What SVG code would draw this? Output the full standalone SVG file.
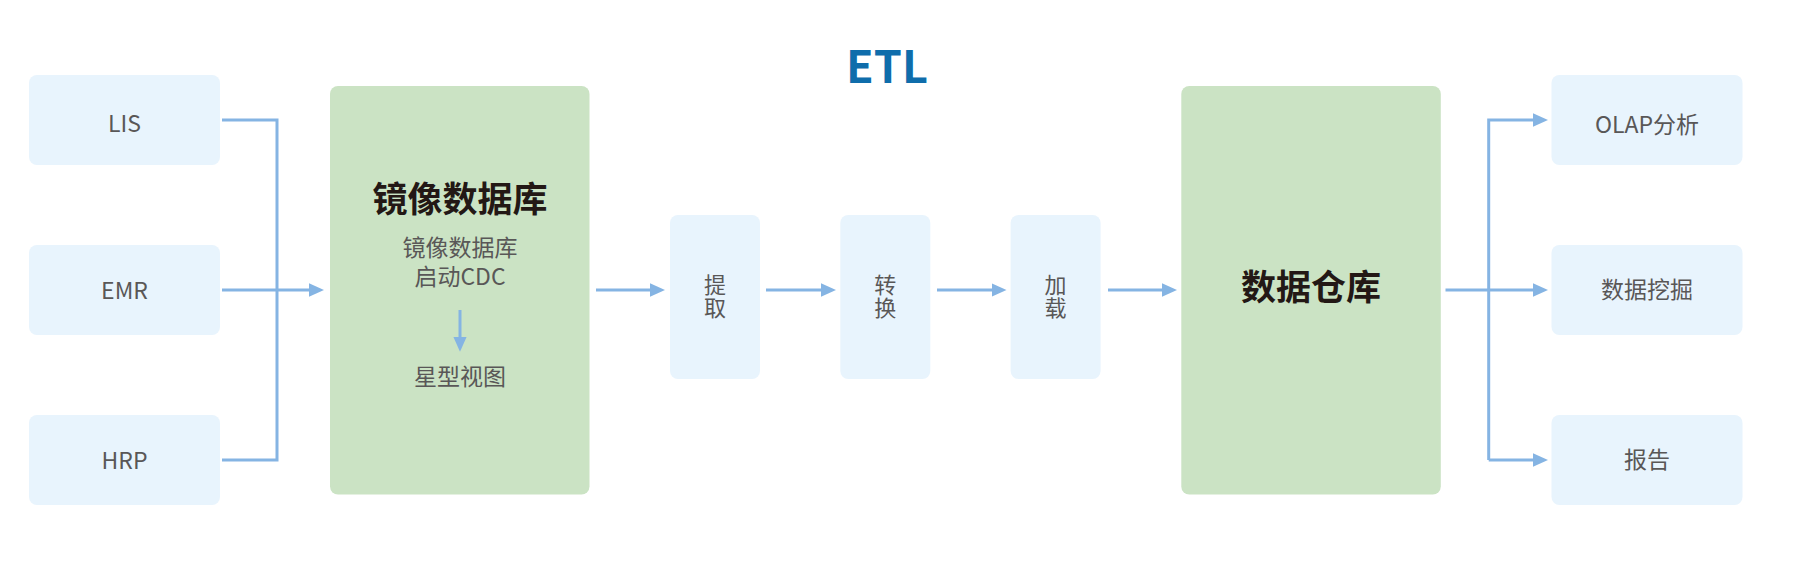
<svg xmlns="http://www.w3.org/2000/svg" width="1794" height="580" viewBox="0 0 1794 580">
<defs>
<style>
text{font-family:"Noto Sans CJK SC","Noto Sans",sans-serif;text-anchor:middle}
.src{fill:#e8f4fd}
.big{fill:#cbe3c4}
.t{font-size:23px;fill:#595757}
.s{font-size:22px;fill:#595757}
.h{font-size:35px;font-weight:bold;fill:#231815}
.etl{font-size:45px;font-weight:bold;fill:#0f6dab}
.c{fill:none;stroke:#85b4e3;stroke-width:3;stroke-linejoin:miter}
.a{marker-end:url(#arr)}
</style>
<marker id="arr" markerUnits="userSpaceOnUse" markerWidth="16" markerHeight="14" refX="5" refY="6.7" orient="auto">
<path d="M0,0 L15,6.7 L0,13.4 z" fill="#85b4e3"/>
</marker>
</defs>
<rect width="1794" height="580" fill="#ffffff"/>
<text class="etl" x="887" y="83">ETL</text>
<g id="lis"><rect class="src" x="29" y="75" width="191" height="90" rx="8"/><text class="t" x="124.5" y="131.5">LIS</text></g>
<g id="emr"><rect class="src" x="29" y="245" width="191" height="90" rx="8"/><text class="t" x="124.5" y="298.5">EMR</text></g>
<g id="hrp"><rect class="src" x="29" y="415" width="191" height="90" rx="8"/><text class="t" x="124.5" y="468.5">HRP</text></g>
<g id="mirror"><rect class="big" x="330" y="86" width="259.5" height="408.5" rx="8"/>
<text class="h" x="460" y="212">镜像数据库</text>
<text class="t" x="460" y="255.5">镜像数据库</text>
<text class="t" x="460" y="284.5">启动CDC</text>
<text class="t" x="460" y="385">星型视图</text>
</g>
<g id="extract"><rect class="src" x="670" y="215" width="90" height="164" rx="8"/><text class="s" x="715" y="292.5">提</text><text class="s" x="715" y="316">取</text></g>
<g id="transform"><rect class="src" x="840.3" y="215" width="90" height="164" rx="8"/><text class="s" x="885.3" y="292.5">转</text><text class="s" x="885.3" y="316">换</text></g>
<g id="load"><rect class="src" x="1010.6" y="215" width="90" height="164" rx="8"/><text class="s" x="1055.6" y="292.5">加</text><text class="s" x="1055.6" y="316">载</text></g>
<g id="dw"><rect class="big" x="1181.3" y="86" width="259.5" height="408.5" rx="8"/><text class="h" x="1311" y="300">数据仓库</text></g>
<g id="olap"><rect class="src" x="1551.5" y="75" width="191" height="90" rx="8"/><text class="t" x="1647" y="132.5">OLAP分析</text></g>
<g id="mining"><rect class="src" x="1551.5" y="245" width="191" height="90" rx="8"/><text class="t" x="1647" y="297.5">数据挖掘</text></g>
<g id="report"><rect class="src" x="1551.5" y="415" width="191" height="90" rx="8"/><text class="t" x="1647" y="467.5">报告</text></g>
<g id="connectors">
<path class="c" d="M222,120 H277 V460 H222"/>
<path class="c a" d="M222,290 H314"/>
<path class="c a" d="M460,310 V341.7"/>
<path class="c a" d="M596,290 H655"/>
<path class="c a" d="M766,290 H826"/>
<path class="c a" d="M937,290 H996.5"/>
<path class="c a" d="M1108,290 H1167"/>
<path class="c a" d="M1445.5,290 H1538"/>
<path class="c a" d="M1488.7,460 V120 H1538"/>
<path class="c a" d="M1488.7,460 H1538"/>
</g>
</svg>
